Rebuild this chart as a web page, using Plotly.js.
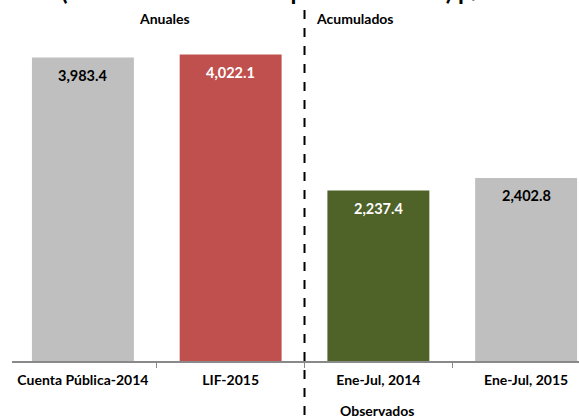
<!DOCTYPE html>
<html>
<head>
<meta charset="utf-8">
<script src="https://cdn.plot.ly/plotly-3.0.1.min.js"></script>
<style>html,body{margin:0;padding:0;background:#fff;}#chart{width:579px;height:420px;}</style>
</head>
<body>
<div id="chart"></div>
<script>
var categories = ["Cuenta Pública-2014", "LIF-2015", "Ene-Jul, 2014", "Ene-Jul, 2015"];
var values = [3983.4, 4022.1, 2237.4, 2402.8];
var valueLabels = ["3,983.4", "4,022.1", "2,237.4", "2,402.8"];
var barColors = ["#BFBFBF", "#C0504D", "#4F6228", "#BFBFBF"];
var labelColors = ["#000000", "#FFFFFF", "#FFFFFF", "#000000"];
var titleText = "(Miles de millones de pesos de 2015) p/";

var FONT = "Lato, 'Open Sans', sans-serif";

var trace = {
  type: "bar",
  x: categories,
  y: values,
  marker: {color: barColors},
  width: 0.69,
  hoverinfo: "none",
  cliponaxis: true
};

var annotations = categories.map(function (c, i) {
  return {
    x: c, y: values[i], xref: "x", yref: "y",
    text: "<b>" + valueLabels[i] + "</b>",
    showarrow: false, yanchor: "middle", yshift: -18,
    font: {family: FONT, size: 14.5, color: labelColors[i]}
  };
});
annotations.push(
  {x: 0.2205, y: 0.95, xref: "paper", yref: "paper", yanchor: "middle", text: "<b>Anuales</b>", showarrow: false,
   font: {family: FONT, size: 14, color: "#000"}},
  {x: 0.677, y: 0.95, xref: "paper", yref: "paper", yanchor: "middle", text: "<b>Acumulados</b>", showarrow: false,
   font: {family: FONT, size: 14, color: "#000"}},
  {x: 0.7125, y: -0.137, xref: "paper", yref: "paper", yanchor: "middle", text: "<b>Observados</b>", showarrow: false,
   font: {family: FONT, size: 14, color: "#000"}},
  {x: 0.459, y: 1, xref: "paper", yref: "paper", xanchor: "center", yanchor: "bottom", yshift: -7.5,
   text: "<b>" + titleText + "</b>", showarrow: false,
   font: {family: FONT, size: 24, color: "#000"}}
);

var layout = {
  width: 579, height: 420,
  margin: {l: 12, r: 0, t: 0, b: 59},
  paper_bgcolor: "#fff", plot_bgcolor: "#fff",
  showlegend: false,
  xaxis: {
    type: "category",
    range: [-0.48, 3.358],
    showgrid: false, zeroline: false,
    showline: true, linecolor: "#898989", linewidth: 1.5,
    ticks: "outside", tickson: "boundaries", ticklen: 5, tickcolor: "#898989",
    ticklabelstandoff: 6,
    tickfont: {family: FONT, size: 14, color: "#000"},
    tickprefix: "<b>", ticksuffix: "</b>",
    fixedrange: true
  },
  yaxis: {
    range: [0, 4737],
    visible: false, showgrid: false, zeroline: false, fixedrange: true
  },
  shapes: [{
    type: "line", xref: "x", yref: "paper",
    x0: 1.5, x1: 1.5, y0: 0.972, y1: -0.17,
    line: {color: "#000", width: 2, dash: "dash"}
  }],
  annotations: annotations
};

Plotly.newPlot("chart", [trace], layout, {displayModeBar: false, staticPlot: true});
</script>
</body>
</html>
